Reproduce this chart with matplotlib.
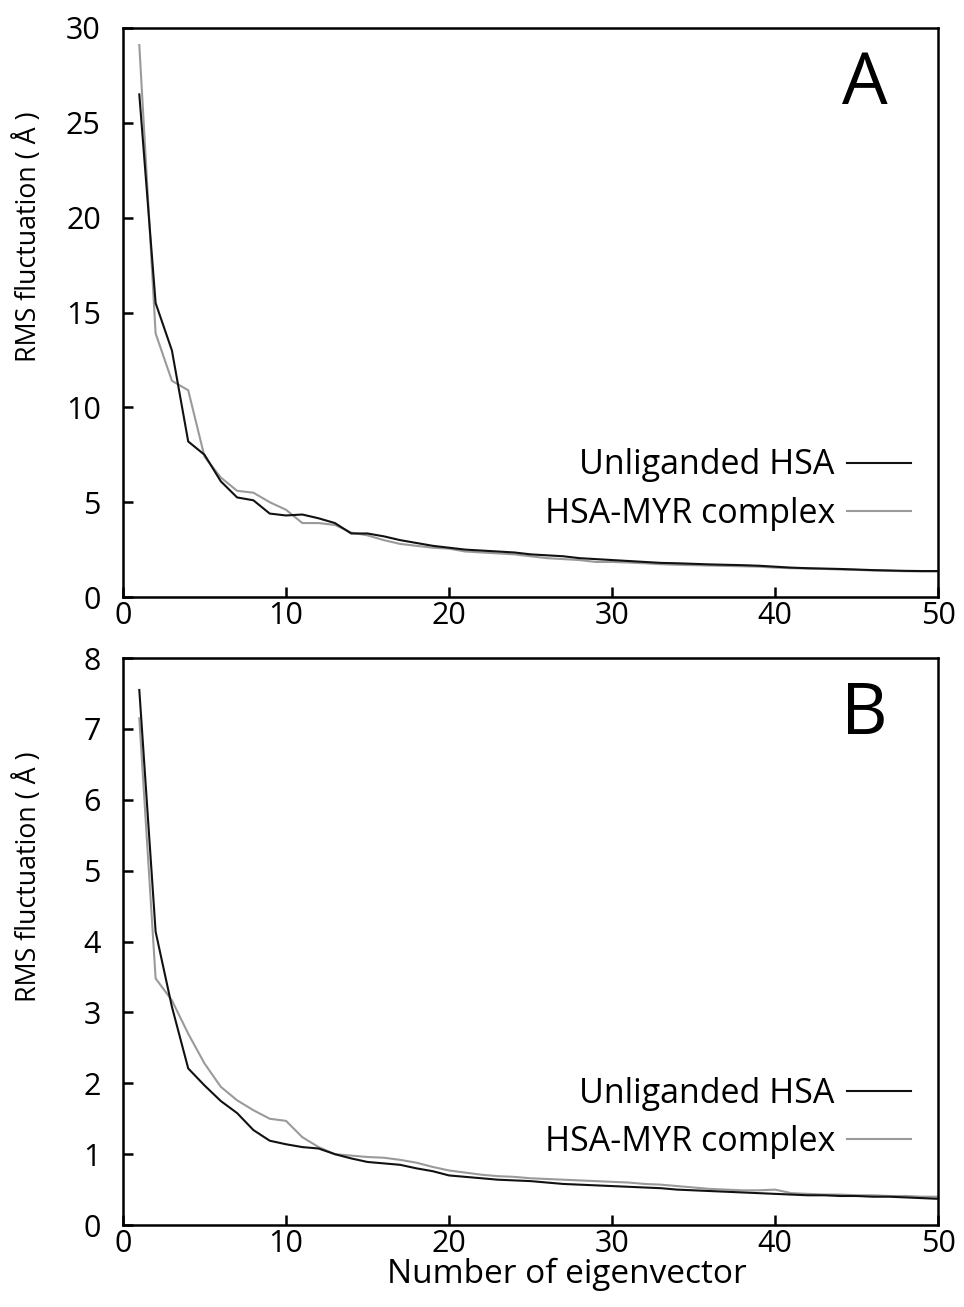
import matplotlib
matplotlib.use('Agg')
import matplotlib.pyplot as plt

plt.rcParams.update({
    'font.family': ['Open Sans', 'DejaVu Sans'],
    'font.size': 22,
    'axes.linewidth': 1.8,
    'xtick.direction': 'in',
    'ytick.direction': 'in',
    'xtick.major.size': 7,
    'ytick.major.size': 7,
    'xtick.major.width': 1.8,
    'ytick.major.width': 1.8,
})

COR_LIVRE = '#111111'
COR_MYR = '#9a9a9a'

# eixo x: numero do autovetor 1..50
autovetor = list(range(1, 51))

# ---------------- Painel A ----------------
a_livre = [26.5, 15.5, 13.0, 8.2, 7.5, 6.1, 5.25, 5.1, 4.4, 4.3,
           4.35, 4.15, 3.9, 3.35, 3.35, 3.2, 3.0, 2.85, 2.7, 2.6,
           2.5, 2.45, 2.4, 2.35, 2.25, 2.2, 2.15, 2.05, 2.0, 1.95,
           1.9, 1.85, 1.8, 1.78, 1.75, 1.72, 1.7, 1.68, 1.65, 1.6,
           1.55, 1.52, 1.5, 1.48, 1.45, 1.42, 1.4, 1.38, 1.37, 1.37]
a_myr = [29.1, 13.9, 11.4, 10.9, 7.4, 6.3, 5.6, 5.5, 5.0, 4.6,
         3.9, 3.9, 3.8, 3.4, 3.25, 3.0, 2.8, 2.7, 2.6, 2.55,
         2.4, 2.35, 2.3, 2.25, 2.15, 2.05, 2.0, 1.95, 1.85, 1.85,
         1.82, 1.78, 1.73, 1.7, 1.68, 1.66, 1.64, 1.62, 1.6, 1.55,
         1.52, 1.5, 1.48, 1.45, 1.43, 1.4, 1.38, 1.36, 1.35, 1.35]

# ---------------- Painel B ----------------
b_livre = [7.55, 4.14, 3.08, 2.21, 1.97, 1.75, 1.58, 1.34, 1.19, 1.14,
           1.1, 1.08, 1.0, 0.94, 0.89, 0.87, 0.85, 0.8, 0.76, 0.7,
           0.68, 0.66, 0.64, 0.63, 0.62, 0.6, 0.58, 0.57, 0.56, 0.55,
           0.54, 0.53, 0.52, 0.5, 0.49, 0.48, 0.47, 0.46, 0.45, 0.44,
           0.43, 0.42, 0.42, 0.41, 0.41, 0.4, 0.4, 0.39, 0.38, 0.37]
b_myr = [7.15, 3.48, 3.17, 2.7, 2.28, 1.95, 1.76, 1.62, 1.5, 1.47,
         1.24, 1.1, 1.0, 0.98, 0.96, 0.95, 0.92, 0.88, 0.82, 0.77,
         0.74, 0.71, 0.69, 0.68, 0.66, 0.65, 0.64, 0.63, 0.62, 0.61,
         0.6, 0.58, 0.57, 0.55, 0.53, 0.51, 0.5, 0.49, 0.49, 0.5,
         0.45, 0.44, 0.43, 0.43, 0.42, 0.42, 0.41, 0.41, 0.4, 0.4]

fig = plt.figure(figsize=(9.64, 13.07), dpi=100)
ax_a = fig.add_axes([0.1276, 0.5432, 0.8455, 0.4354])
ax_b = fig.add_axes([0.1276, 0.0627, 0.8455, 0.4338])


def desenhar(ax, livre, myr, ymax, letra, leg_y, ylab_y):
    ax.plot(autovetor, livre, color=COR_LIVRE, lw=1.5, label='Unliganded HSA', zorder=3)
    ax.plot(autovetor, myr, color=COR_MYR, lw=1.5, label='HSA-MYR complex', zorder=2)
    ax.set_xlim(0, 50)
    ax.set_ylim(0, ymax)
    ax.set_xticks(range(0, 51, 10))
    ax.tick_params(axis='y', pad=16, labelsize=22)
    ax.tick_params(axis='x', pad=3, labelsize=22)
    ax.set_ylabel('RMS fluctuation ( Å )', fontsize=19.3)
    ax.yaxis.set_label_coords(-0.098, ylab_y)
    ax.text(0.910, 0.9, letra, transform=ax.transAxes, fontsize=52,
            ha='center', va='center')
    ax.legend(loc='lower right', bbox_to_anchor=(0.984, leg_y), frameon=False,
              markerfirst=False, fontsize=24.5, handlelength=1.9,
              handletextpad=0.35, labelspacing=0.43, borderaxespad=0)


desenhar(ax_a, a_livre, a_myr, 30, 'A', 0.092, 0.633)
desenhar(ax_b, b_livre, b_myr, 8, 'B', 0.092, 0.614)
ax_b.set_xlabel('Number of eigenvector', fontsize=24, labelpad=-1)
ax_b.xaxis.label.set_x(0.545)

fig.savefig('out.png', dpi=100)
